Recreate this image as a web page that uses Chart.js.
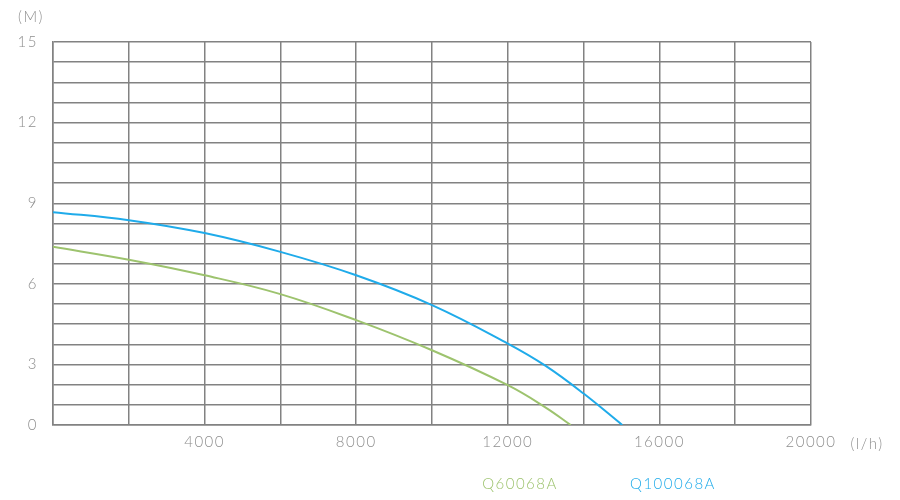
<!DOCTYPE html>
<html>
<head>
<meta charset="utf-8">
<script src="https://cdn.jsdelivr.net/npm/chart.js@4/dist/chart.umd.min.js"></script>
<style>
  html, body { margin: 0; padding: 0; background: #ffffff; }
  #wrap { width: 900px; height: 500px; }
</style>
</head>
<body>
<div id="wrap"><canvas id="c" width="900" height="500"></canvas></div>
<script>
// ---- data ----
const seriesNames = ['Q60068A', 'Q100068A'];
const seriesColors = ['#9dc36e', '#1fabea'];

const flowQ60068A = [0, 2000, 4000, 6000, 8000, 10000, 12000, 13000, 13660];
const headQ60068A = [7.38, 6.90, 6.32, 5.62, 4.65, 3.53, 2.23, 1.40, 0.75];

const flowQ100068A = [0, 2000, 4000, 6000, 8000, 10000, 12000, 13000, 14000, 15020];
const headQ100068A = [8.67, 8.37, 7.89, 7.19, 6.32, 5.21, 3.78, 2.95, 1.92, 0.75];

const xTickLabels = ['4000', '8000', '12000', '16000', '20000'];
const yTickLabels = ['0', '3', '6', '9', '12', '15'];
const yTickValues = [0.75, 3, 6, 9, 12, 15];

const xUnit = '(l/h)';
const yUnit = '(M)';

const toPoints = (xs, ys) => xs.map((x, i) => ({ x: x, y: ys[i] }));

const FONT = 'Lato, "Liberation Sans", Arial, sans-serif';
const TICK_COLOR = '#8e8e8e';
const GRID_COLOR = '#828282';

const extraText = {
  id: 'extraText',
  beforeDraw(chart) {
    chart.ctx.letterSpacing = '1.5px';
  },
  afterDraw(chart) {
    const ctx = chart.ctx;
    const area = chart.chartArea;
    ctx.save();
    ctx.letterSpacing = '1.5px';
    ctx.font = '300 15px ' + FONT;
    ctx.textBaseline = 'middle';
    ctx.textAlign = 'center';
    ctx.fillStyle = TICK_COLOR;
    ctx.fillText(yUnit, 31, 17);
    ctx.fillText(xUnit, 867, area.bottom + 19);
    const legendX = [520, 673];
    chart.data.datasets.forEach((ds, i) => {
      ctx.fillStyle = ds.borderColor;
      ctx.fillText(ds.label, legendX[i], 484);
    });
    ctx.restore();
  }
};

new Chart(document.getElementById('c'), {
  type: 'line',
  data: {
    datasets: [
      {
        label: seriesNames[0],
        data: toPoints(flowQ60068A, headQ60068A),
        borderColor: seriesColors[0],
        borderWidth: 2,
        pointRadius: 0,
        tension: 0.4,
        fill: false
      },
      {
        label: seriesNames[1],
        data: toPoints(flowQ100068A, headQ100068A),
        borderColor: seriesColors[1],
        borderWidth: 2,
        pointRadius: 0,
        tension: 0.4,
        fill: false
      }
    ]
  },
  options: {
    responsive: false,
    animation: false,
    devicePixelRatio: 1,
    layout: { padding: { top: 42, right: 89, left: 0, bottom: 0 } },
    plugins: {
      legend: { display: false },
      tooltip: { enabled: false }
    },
    scales: {
      x: {
        type: 'linear',
        min: 0,
        max: 20000,
        afterFit(scale) { scale.height = 75; },
        ticks: {
          stepSize: 2000,
          autoSkip: false,
          maxRotation: 0,
          padding: 8,
          color: TICK_COLOR,
          font: { family: FONT, size: 15, weight: '300' },
          callback(v) {
            const s = String(v);
            return xTickLabels.includes(s) ? s : '';
          }
        },
        grid: { color: GRID_COLOR, lineWidth: 1.5, drawTicks: false },
        border: { color: GRID_COLOR, width: 1.5 }
      },
      y: {
        type: 'linear',
        min: 0.75,
        max: 15,
        afterFit(scale) { scale.width = 53; },
        ticks: {
          stepSize: 0.75,
          autoSkip: false,
          padding: 15,
          color: TICK_COLOR,
          font: { family: FONT, size: 15, weight: '300' },
          callback(v) {
            const idx = yTickValues.findIndex(t => Math.abs(t - v) < 1e-6);
            return idx >= 0 ? yTickLabels[idx] : '';
          }
        },
        grid: { color: GRID_COLOR, lineWidth: 1.5, drawTicks: false },
        border: { color: GRID_COLOR, width: 1.5 }
      }
    }
  },
  plugins: [extraText]
});
</script>
</body>
</html>
